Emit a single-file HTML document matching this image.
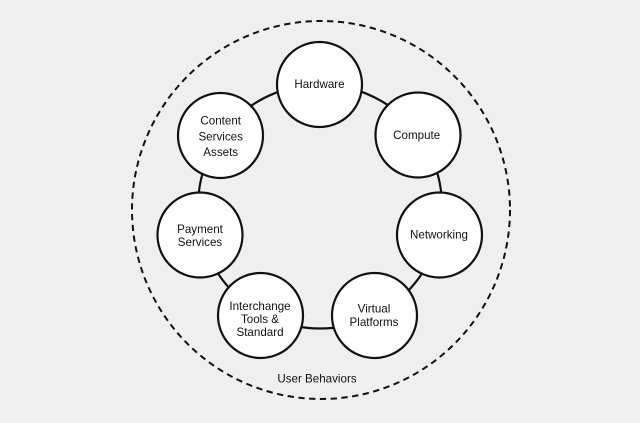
<!DOCTYPE html>
<html><head><meta charset="utf-8"><style>
html,body{margin:0;padding:0;background:#efefef;}
svg{display:block;}
text{font-family:"Liberation Sans",Arial,sans-serif;font-size:11.6px;fill:#111;text-anchor:middle;dominant-baseline:central;}
</style></head><body>
<svg width="640" height="423" viewBox="0 0 640 423" xmlns="http://www.w3.org/2000/svg">
<rect width="640" height="423" fill="#efefef"/>
<circle cx="321" cy="210" r="189" fill="none" stroke="#111" stroke-width="2" stroke-dasharray="6.3 4.5"/>
<circle cx="320" cy="206.5" r="122" fill="none" stroke="#111" stroke-width="2.2"/>
<g fill="#fff" stroke="#111" stroke-width="2.2">
<circle cx="319.5" cy="84.5" r="42.5"/>
<circle cx="418" cy="135" r="42.5"/>
<circle cx="439.5" cy="235" r="42.5"/>
<circle cx="374.5" cy="315.5" r="42.5"/>
<circle cx="260.5" cy="315.5" r="42.5"/>
<circle cx="200" cy="235" r="42.5"/>
<circle cx="220.5" cy="135.5" r="42.5"/>
</g>
<text x="319.5" y="84.5">Hardware</text>
<text x="416.7" y="135.7">Compute</text>
<text x="439" y="235">Networking</text>
<text x="374" y="309">Virtual</text>
<text x="374" y="322.3">Platforms</text>
<text x="260" y="306.5">Interchange</text>
<text x="260" y="319.5">Tools &amp;</text>
<text x="260" y="332.7">Standard</text>
<text x="200" y="229.3">Payment</text>
<text x="200" y="242.7">Services</text>
<text x="220.7" y="121">Content</text>
<text x="220.7" y="136.8">Services</text>
<text x="220.7" y="152.7">Assets</text>
<text x="317" y="379">User Behaviors</text>
</svg>
</body></html>
